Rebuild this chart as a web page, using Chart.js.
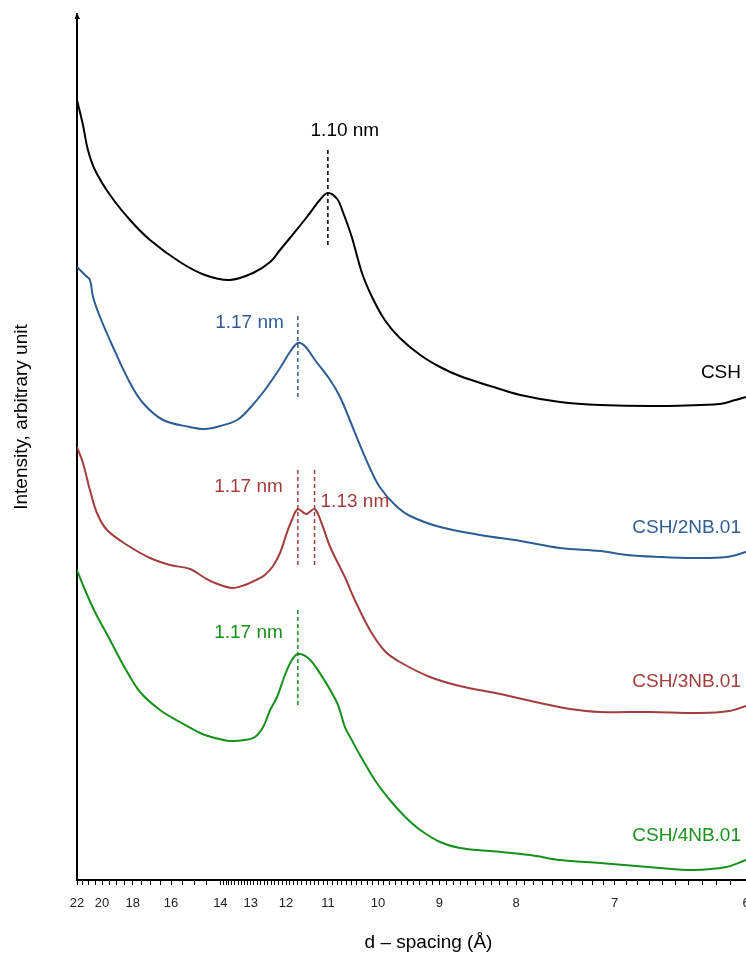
<!DOCTYPE html>
<html>
<head>
<meta charset="utf-8">
<script src="https://cdn.jsdelivr.net/npm/chart.js@4.4.1/dist/chart.umd.min.js"></script>
<style>
  html, body { margin: 0; padding: 0; overflow: hidden; background: #fff; }
  canvas { display: block; }
</style>
</head>
<body>
<canvas id="xrd" width="800" height="959"></canvas>
<script>
// d-spacing (Å) and stacked intensity (arbitrary unit) for each sample
const cshD = [22.0, 21.49, 21.08, 20.53, 19.44, 18.16, 17.04, 15.60, 14.57, 13.67,
              12.93, 12.43, 12.16, 11.90, 11.48, 11.18, 11.0, 10.80, 10.68, 10.50,
              10.30, 10.11, 9.88, 9.62, 9.29, 8.99, 8.71, 8.31, 7.95, 7.52,
              7.13, 6.62, 6.18, 6.07, 6.0];
const cshI = [780, 755, 730, 710, 685, 660, 640, 618, 605, 600,
              607, 618, 630, 642, 663, 680, 687, 681, 668, 643,
              607, 583, 560, 542, 525, 513, 504, 494, 485, 478,
              475, 474, 476, 480, 483];

const nb2D = [22.0, 21.32, 20.92, 20.68, 20.15, 19.24, 18.16, 17.42, 16.38, 15.17,
              14.57, 14.01, 13.43, 13.02, 12.58, 12.16, 11.90, 11.70, 11.53, 11.29,
              10.95, 10.74, 10.54, 10.34, 10.15, 9.97, 9.70, 9.45, 8.99, 8.44,
              7.95, 7.52, 7.13, 6.89, 6.62, 6.37, 6.13, 6.0];
const nb2I = [613, 605, 600, 583, 563, 533, 497, 477, 460, 453,
              451, 454, 460, 472, 490, 512, 528, 537, 534, 520,
              500, 483, 460, 435, 412, 393, 375, 364, 353, 345,
              339, 332, 329, 325, 323, 322, 323, 328];

const nb3D = [22.0, 21.49, 20.92, 20.38, 19.65, 18.34, 17.04, 16.05, 15.17, 14.57,
              14.19, 13.60, 13.18, 12.78, 12.58, 12.35, 12.16, 11.98, 11.85, 11.70,
              11.50, 11.30, 11.15, 10.95, 10.64, 10.44, 10.15, 9.88, 9.62,
              9.14, 8.71, 8.19, 7.73, 7.42, 7.13, 6.70, 6.32, 6.11, 6.0];
const nb3I = [433, 417, 390, 367, 350, 335, 322, 315, 311, 302,
              297, 292, 295, 301, 305, 314, 327, 347, 360, 371,
              366, 371, 358, 333, 303, 280, 250, 229, 218,
              203, 194, 186, 177, 171, 168, 168, 167, 169, 174];

const nb4D = [22.0, 21.32, 20.53, 19.44, 18.47, 17.58, 16.53, 15.60, 14.76, 14.19,
              13.67, 13.18, 12.87, 12.63, 12.43, 12.24, 12.03, 11.85, 11.70, 11.45,
              11.18, 10.80, 10.64, 10.50, 10.34, 10.06, 9.79, 9.53, 9.29, 8.99,
              8.71, 8.31, 7.84, 7.52, 7.13, 6.62, 6.37, 6.13, 6.0];
const nb4I = [310, 290, 268, 240, 212, 188, 170, 158, 147, 142,
              139, 140, 143, 153, 170, 183, 205, 220, 226, 222,
              207, 177, 153, 140, 125, 100, 80, 63, 50, 38,
              32, 29, 25, 20, 17, 12, 10, 13, 20];

const seriesNames = ['CSH', 'CSH/2NB.01', 'CSH/3NB.01', 'CSH/4NB.01'];

// labelled d-spacing ticks (Å)
const tickLabelsD = [22, 20, 18, 16, 14, 13, 12, 11, 10, 9, 8, 7, 6];

// basal peaks marked with a dashed line: series index, d (Å), label
const peakSeries = [0, 1, 2, 2, 3];
const peakD      = [11.0, 11.7, 11.7, 11.3, 11.7];
const peakText   = ['1.10 nm', '1.17 nm', '1.17 nm', '1.13 nm', '1.17 nm'];

// ---- styling ----
const FONT = "'Liberation Sans', Arial, Helvetica, sans-serif";
const seriesColors = ['#000000', '#2e5c95', '#a23e3e', '#18901c'];
// dashed marker extent above/below the peak and label placement
const peakStyle = [
  { up: 43, down: 52, align: 'center', dx: 17,  dy: -19 },
  { up: 27, down: 55, align: 'right',  dx: -14, dy: 7 },
  { up: 39, down: 56, align: 'right',  dx: -15, dy: 17 },
  { up: 39, down: 56, align: 'left',   dx: 6,   dy: 32 },
  { up: 44, down: 53, align: 'right',  dx: -15, dy: 23 }
];

const seriesD = [cshD, nb2D, nb3D, nb4D];
const seriesI = [cshI, nb2I, nb3I, nb4I];

// x axis is linear in 1/d (reciprocal spacing)
const toXY = (ds, is) => ds.map((d, i) => ({ x: 1 / d, y: is[i] }));

// axis tick positions: every 0.5 Å above 14 Å, every 0.1 Å below
const tickD = [];
for (let t = 220; t > 140; t -= 5) tickD.push(t / 10);
for (let t = 140; t >= 60; t -= 1) tickD.push(t / 10);

// plot frame: left edge at 1/22, 6 Å lands at px 746 inside an area ending at 780
const AREA_LEFT = 77, AREA_RIGHT = 780, SIX_PX = 746;
const xMin = 1 / 22;
const pxPerUnit = (SIX_PX - AREA_LEFT) / (1 / 6 - 1 / 22);
const xMax = xMin + (AREA_RIGHT - AREA_LEFT) / pxPerUnit;

const peakValue = (s, d) => {
  const idx = seriesD[s].findIndex(v => Math.abs(v - d) < 1e-6);
  return seriesI[s][idx];
};

const datasets = seriesD.map((ds, s) => ({
  label: seriesNames[s],
  data: toXY(ds, seriesI[s]),
  borderColor: seriesColors[s],
  borderWidth: 2,
  pointRadius: 0,
  tension: 0.35,
  fill: false
}));

peakD.forEach((d, k) => {
  const s = peakSeries[k];
  const v = peakValue(s, d);
  datasets.push({
    label: 'peak-' + k,
    data: [{ x: 1 / d, y: v + peakStyle[k].up }, { x: 1 / d, y: v - peakStyle[k].down }],
    borderColor: seriesColors[s],
    borderWidth: 1.5,
    borderDash: [4, 3],
    pointRadius: 0,
    tension: 0,
    fill: false
  });
});

const annotate = {
  id: 'annotate',
  afterDatasetsDraw(chart) {
    const { ctx, scales: { x, y } } = chart;
    ctx.save();
    ctx.textBaseline = 'middle';

    // sample names above the right end of each trace
    ctx.font = '19px ' + FONT;
    ctx.textAlign = 'right';
    seriesNames.forEach((name, s) => {
      const last = seriesI[s][seriesI[s].length - 1];
      ctx.fillStyle = seriesColors[s];
      ctx.fillText(name, x.getPixelForValue(1 / 6) - 5, y.getPixelForValue(last) - 24);
    });

    // peak position labels
    peakD.forEach((d, k) => {
      const s = peakSeries[k];
      const st = peakStyle[k];
      const top = y.getPixelForValue(peakValue(s, d) + st.up);
      ctx.fillStyle = seriesColors[s];
      ctx.textAlign = st.align;
      ctx.fillText(peakText[k], x.getPixelForValue(1 / d) + st.dx, top + st.dy);
    });

    // vertical axis title
    ctx.fillStyle = '#000';
    ctx.textAlign = 'center';
    ctx.translate(22, 417);
    ctx.rotate(-Math.PI / 2);
    ctx.fillText('Intensity, arbitrary unit', 0, 0);
    ctx.restore();

    // small arrow head on the intensity axis
    const ax = chart.chartArea.left, at = chart.chartArea.top;
    ctx.save();
    ctx.fillStyle = '#000';
    ctx.beginPath();
    ctx.moveTo(ax - 2.5, at + 5);
    ctx.lineTo(ax + 3, at + 5);
    ctx.lineTo(ax, at - 1);
    ctx.closePath();
    ctx.fill();
    ctx.restore();
  }
};

new Chart(document.getElementById('xrd'), {
  type: 'line',
  data: { datasets },
  options: {
    responsive: false,
    animation: false,
    devicePixelRatio: 1,
    layout: { padding: { left: 0, right: 800 - AREA_RIGHT, top: 14, bottom: 0 } },
    plugins: { legend: { display: false }, tooltip: { enabled: false } },
    scales: {
      x: {
        type: 'linear',
        min: xMin,
        max: xMax,
        afterBuildTicks: (scale) => { scale.ticks = tickD.map(d => ({ value: 1 / d })); },
        afterFit: (scale) => { scale.height = 959 - 880; },
        ticks: {
          autoSkip: false,
          maxRotation: 0,
          padding: 11,
          color: '#222',
          font: { family: FONT, size: 13 },
          callback: (value) => {
            const d = Math.round(10 / value) / 10;
            return tickLabelsD.includes(d) ? String(d) : '';
          }
        },
        grid: { display: true, drawOnChartArea: false, drawTicks: true, tickLength: 5, color: '#000', lineWidth: 1 },
        border: { display: true, color: '#000', width: 2 },
        title: {
          display: true,
          text: 'd \u2013 spacing (\u00c5)',
          color: '#000',
          font: { family: FONT, size: 19 },
          padding: { top: 0, bottom: 5 }
        }
      },
      y: {
        type: 'linear',
        min: 0,
        max: 866,
        afterFit: (scale) => { scale.width = AREA_LEFT; },
        ticks: { display: false },
        grid: { display: false, drawTicks: false },
        border: { display: true, color: '#000', width: 2 }
      }
    }
  },
  plugins: [annotate]
});
</script>
</body>
</html>
